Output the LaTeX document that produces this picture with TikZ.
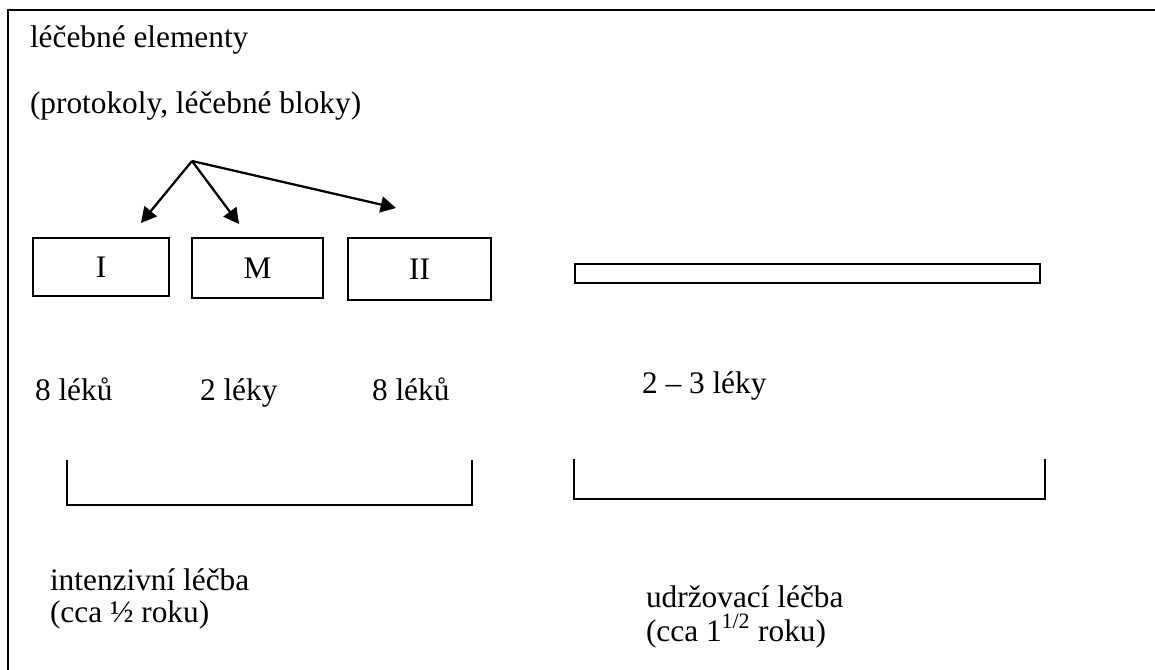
\documentclass[tikz,border=0pt]{standalone}
\usepackage{fontspec}
\setmainfont{Liberation Serif}
\usetikzlibrary{arrows.meta}
\newdimen\px \px=0.75pt
\begin{document}
\begin{tikzpicture}[x=0.75pt,y=-0.75pt,
  every node/.style={inner sep=0pt,outer sep=0pt,font=\fontsize{23.5}{28}\selectfont},
  label/.style={anchor=base west},
  phase/.style={draw,line width=1.1pt},
  bracket/.style={line width=1.1pt},
  pointer/.style={line width=1.7pt,-{Triangle[length=11.5pt,width=12pt]}}]
\useasboundingbox (0,0) rectangle (1155,670);
% outer frame
\draw[line width=1.6pt] (8,672) -- (8,10) -- (1157,10);
% headings
\node[label] (title) at (30,48) {léčebné elementy};
\node[label] (sub) at (30,114) {(protokoly, léčebné bloky)};
% treatment blocks
\node[phase,minimum width=136\px,minimum height=58\px] (bI) at (101,267) {I};
\node[phase,minimum width=131\px,minimum height=60\px] (bM) at (257.5,268) {M};
\node[phase,minimum width=143\px,minimum height=62\px] (bII) at (419.5,269) {II};
\node[phase,minimum width=465\px,minimum height=19\px] (bar) at (807.5,273.5) {};
% arrows from the protocols
\coordinate (src) at (192,161);
\coordinate (tI) at (141,223);
\coordinate (tM) at (239,224);
\coordinate (tII) at (396,208);
\draw[pointer] (src) -- (tI);
\draw[pointer] (src) -- (tM);
\draw[pointer] (src) -- (tII);
% drug counts
\node[label] (dI) at (35,400) {8 léků};
\node[label] (dM) at (200,400) {2 léky};
\node[label] (dII) at (372,400) {8 léků};
\node[label] (dU) at (642,393) {2 – 3 léky};
% brackets
\draw[bracket] (67,460) -- (67,505) -- (472,505) -- (472,460);
\draw[bracket] (574,459) -- (574,499) -- (1045,499) -- (1045,459);
% phase descriptions
\node[label] (int1) at (50,590) {intenzivní léčba};
\node[label] (int2) at (50,622) {(cca ½ roku)};
\node[label] (udr1) at (646,607) {udržovací léčba};
\node[label] (udr2) at (646,641) {(cca 1\textsuperscript{1/2} roku)};
\end{tikzpicture}
\end{document}
